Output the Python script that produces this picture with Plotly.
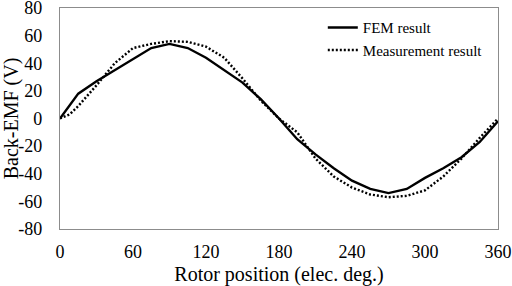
import plotly.graph_objects as go

angles = [0, 8, 15, 30, 45, 60, 75, 90, 105, 120, 135, 150, 165, 180,
          195, 210, 225, 240, 255, 270, 285, 300, 315, 330, 345, 360]
fem = [0, 10, 18, 27, 35, 43, 51, 54, 51, 44, 35, 26, 14, 0,
       -15, -26, -36, -45, -51, -54, -51, -43, -36, -28, -17, -2]
measured = [0, 3, 9, 24, 40, 51, 54, 56, 55.5, 52, 44, 29, 13, 0,
            -10, -29, -42, -50, -55, -57, -56, -52, -42, -29, -14, 0]

x_ticks = [0, 60, 120, 180, 240, 300, 360]
y_ticks = [-80, -60, -40, -20, 0, 20, 40, 60, 80]
y_tick_labels = ["-80", "-60", "-40", "-20", "0", "20", "40", "60", "80"]

fig = go.Figure()
fig.add_trace(go.Scatter(x=angles, y=fem, mode="lines", name="FEM result",
                         line=dict(color="black", width=2.4)))
fig.add_trace(go.Scatter(x=angles, y=measured, mode="lines", name="Measurement result",
                         line=dict(color="black", width=2.4, dash="2px,2px")))

axis_common = dict(showgrid=False, zeroline=False, showline=True, linecolor="#8c8c8c",
                   linewidth=1.2, mirror=True, ticks="outside", tickcolor="rgba(0,0,0,0)",
                   ticklabeloverflow="allow", automargin=False,
                   tickfont=dict(family="Liberation Serif", size=18, color="black"))
fig.update_layout(
    width=512, height=286,
    margin=dict(l=60, r=14, t=8, b=57),
    paper_bgcolor="white", plot_bgcolor="white",
    font=dict(family="Liberation Serif", color="black"),
    xaxis=dict(range=[0, 360], tickvals=x_ticks, ticklen=6,
               title=dict(text="Rotor position (elec. deg.)", font=dict(size=20), standoff=8),
               **axis_common),
    yaxis=dict(range=[-80, 80], tickvals=y_ticks, ticktext=y_tick_labels, ticklen=13,
               title=dict(text="Back-EMF (V)", font=dict(size=20), standoff=2),
               **axis_common),
    legend=dict(x=0.6, y=0.985, xanchor="left", yanchor="top",
                font=dict(family="Liberation Serif", size=15, color="black"),
                bgcolor="rgba(0,0,0,0)", tracegroupgap=0, itemwidth=30),
)
fig.write_html("out.html", config={"displayModeBar": False},
               post_script="document.body.style.margin='0';")
